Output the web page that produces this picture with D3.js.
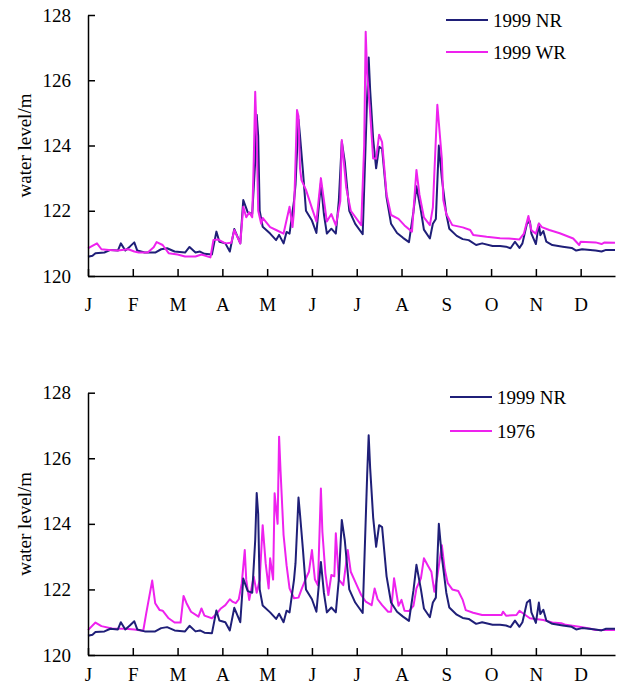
<!DOCTYPE html>
<html>
<head>
<meta charset="utf-8">
<script src="https://cdn.jsdelivr.net/npm/d3@7"></script>
<style>
  body { margin: 0; background: #fff; }
  svg { display: block; }
</style>
</head>
<body>
<svg id="chart"></svg>
<script>
// month labels and the day each month tick sits on
const monthLabels = ["J", "F", "M", "A", "M", "J", "J", "A", "S", "O", "N", "D"];
const monthDays = [0, 30, 60, 90, 120, 150, 180, 210, 240, 270, 300, 330];
const levelTicks = [120, 122, 124, 126, 128];

// [day, water level m]
const nr1999 = [
  [0, 120.59], [3, 120.62], [5, 120.70], [11, 120.72], [15, 120.80], [20, 120.78],
  [22, 121.00], [25, 120.78], [28, 120.90], [31, 121.03], [33, 120.78], [38, 120.72],
  [45, 120.72], [49, 120.82], [53, 120.85], [58, 120.75], [65, 120.72], [68, 120.89],
  [72, 120.72], [75, 120.75], [78, 120.68], [83, 120.66], [86, 121.36], [88, 121.05],
  [92, 121.00], [95, 120.75], [98, 121.44], [102, 121.00], [104, 122.33], [107, 121.95],
  [110, 121.90], [112, 123.50], [113, 124.94], [114, 124.30], [115, 122.00], [117, 121.51],
  [122, 121.30], [126, 121.10], [128, 121.26], [131, 121.00], [133, 121.35], [135, 121.30],
  [138, 122.30], [139, 122.80], [141, 124.80], [142, 124.30], [144, 123.20], [146, 122.00],
  [150, 121.70], [153, 121.32],
  [156, 122.84], [158, 121.90], [160, 121.30], [163, 121.45], [166, 121.30], [168, 122.30],
  [170, 124.12], [172, 123.50], [175, 122.00], [179, 121.60], [184, 121.28], [187, 125.50],
  [188, 126.70], [189, 125.70], [191, 124.20], [193, 123.30], [195, 123.96], [197, 123.90],
  [200, 122.40], [203, 121.60], [207, 121.32], [211, 121.17], [215, 121.04], [218, 121.97],
  [220, 122.75], [223, 122.00], [225, 121.42], [229, 121.15], [231, 121.60], [233, 121.75],
  [235, 124.00], [237, 123.00], [240, 121.90], [242, 121.45], [247, 121.23], [251, 121.13],
  [255, 121.10], [260, 120.95], [264, 121.00], [271, 120.92], [276, 120.92], [280, 120.90],
  [283, 120.85], [286, 121.05], [289, 120.86], [291, 121.00], [294, 121.60], [296, 121.68],
  [297, 121.30], [300, 120.98], [302, 121.60], [303, 121.25], [305, 121.38], [307, 121.05],
  [311, 120.95], [318, 120.90], [324, 120.86], [327, 120.78], [331, 120.82], [340, 120.78],
  [344, 120.75], [347, 120.80], [353, 120.80]
];

const wr1999 = [
  [0, 120.85], [2, 120.90], [6, 121.00], [9, 120.82], [14, 120.80], [20, 120.78],
  [27, 120.82], [31, 120.75], [34, 120.72], [40, 120.72], [44, 120.88], [46, 121.04],
  [50, 120.95], [54, 120.70], [60, 120.66], [65, 120.60], [72, 120.60], [76, 120.66],
  [82, 120.57], [84, 121.10], [87, 121.12], [92, 121.00], [96, 121.02], [98, 121.41],
  [102, 121.00], [104, 122.12], [106, 121.80], [108, 121.95], [110, 121.80], [111, 123.50],
  [112, 125.65], [113, 124.30], [114, 122.00], [116, 121.60], [117, 121.78], [122, 121.50],
  [126, 121.41], [131, 121.30], [135, 122.12], [137, 121.50], [138, 122.00], [139, 123.50],
  [140, 125.09], [141, 124.90], [142, 123.30], [143, 122.94], [146, 122.64], [150, 122.08],
  [153, 121.67], [156, 123.00],
  [160, 121.67], [163, 121.90], [166, 121.55], [169, 122.30], [170, 124.17], [173, 122.70],
  [176, 122.00], [183, 121.56], [185, 124.00], [186, 127.49], [187, 126.20], [189, 125.00],
  [191, 123.60], [193, 123.60], [195, 124.33], [197, 124.10], [200, 122.50], [203, 121.87],
  [208, 121.75], [212, 121.55], [217, 121.36], [220, 123.25], [222, 122.50], [225, 121.80],
  [229, 121.56], [231, 122.10], [234, 125.25], [237, 123.60], [238, 122.33], [240, 121.90],
  [244, 121.56], [251, 121.49], [256, 121.41], [258, 121.26], [267, 121.20], [276, 121.16],
  [282, 121.15], [289, 121.12], [292, 121.30], [295, 121.84], [297, 121.40], [300, 121.30],
  [302, 121.61], [304, 121.50], [309, 121.41], [316, 121.31], [325, 121.15], [329, 120.95],
  [330, 121.05], [340, 121.03], [344, 120.98], [346, 121.03], [353, 121.02]
];

const y1976 = [
  [0, 120.76], [5, 120.99], [9, 120.88], [16, 120.81], [25, 120.80], [31, 120.78],
  [37, 120.74], [39, 121.27], [43, 122.27], [45, 121.58], [48, 121.37], [50, 121.35],
  [54, 121.12], [58, 120.99], [62, 120.99], [64, 121.80], [66, 121.58], [69, 121.32],
  [74, 121.17], [76, 121.42], [78, 121.20], [83, 121.12], [86, 121.25], [89, 121.42],
  [92, 121.52], [95, 121.70], [97, 121.62], [99, 121.58], [101, 121.70], [103, 122.19],
  [105, 123.20], [106, 122.29], [108, 121.68], [111, 122.39], [113, 121.90], [115, 122.29],
  [117, 123.96], [119, 122.80], [121, 122.03], [122, 122.95], [124, 122.30], [125, 124.93],
  [127, 124.00], [128, 126.66], [129, 125.59], [131, 123.66], [133, 122.74], [135, 122.03],
  [138, 121.73], [141, 121.75], [143, 122.00], [146, 122.34], [148, 122.54], [150, 123.20],
  [152, 122.30], [154, 122.13], [156, 125.08], [157, 123.76], [159, 122.50], [161, 121.83],
  [163, 122.44], [165, 122.40], [166, 123.71], [168, 122.30], [171, 122.13], [174, 123.20],
  [176, 122.54], [180, 122.13], [183, 121.83], [186, 121.63], [190, 121.52], [192, 122.03],
  [194, 121.70], [197, 121.52], [201, 121.32], [203, 121.32], [205, 122.34], [208, 121.50],
  [210, 121.68], [212, 121.35], [215, 121.34], [218, 121.50], [220, 122.03], [223, 122.34],
  [225, 122.95], [228, 122.70], [230, 122.54], [232, 121.93], [234, 122.40], [237, 123.35],
  [239, 122.60], [241, 122.19], [244, 122.00], [248, 121.95], [251, 121.68], [253, 121.37],
  [258, 121.29], [264, 121.22], [271, 121.22], [277, 121.22], [278, 121.32], [280, 121.20],
  [287, 121.22], [289, 121.35], [292, 121.25], [296, 121.12], [305, 121.07], [311, 120.99],
  [317, 120.97], [320, 120.92], [329, 120.86], [336, 120.81], [340, 120.76], [353, 120.76]
];

const navy = "#1f1f78";
const magenta = "#ee22ee";
const font = "'Liberation Serif', 'Times New Roman', serif";

const svg = d3.select("#chart").attr("width", 627).attr("height", 686);
svg.append("rect").attr("width", 627).attr("height", 686).attr("fill", "#fff");

const x = d3.scaleLinear().domain([0, 353]).range([88, 615]);

function drawPanel(opts) {
  const y = d3.scaleLinear().domain([120, 128]).range([opts.bottom, opts.top]);
  const g = svg.append("g");

  const line = d3.line().x(d => x(d[0])).y(d => y(d[1]));

  // series, first one drawn underneath
  opts.series.forEach(s => {
    g.append("path")
      .datum(s.data)
      .attr("fill", "none")
      .attr("stroke", s.color)
      .attr("stroke-width", 2)
      .attr("stroke-linejoin", "round")
      .attr("d", line);
  });

  const yAxis = g.append("g")
    .attr("transform", `translate(${x(0)},0)`)
    .call(d3.axisLeft(y).tickValues(levelTicks).tickFormat(d3.format("d"))
      .tickSizeInner(-7).tickSizeOuter(0).tickPadding(17));

  const xAxis = g.append("g")
    .attr("transform", `translate(0,${opts.bottom})`)
    .call(d3.axisBottom(x).tickValues(monthDays).tickFormat((d, i) => monthLabels[i])
      .tickSizeInner(-7).tickSizeOuter(0).tickPadding(opts.xPad));

  [yAxis, xAxis].forEach(a => {
    a.attr("font-family", font);
    a.selectAll("path, line").attr("stroke", "#000").attr("stroke-width", 1.5);
    a.selectAll("text").attr("font-family", font).attr("font-size", 19).attr("fill", "#000");
  });

  g.append("text")
    .attr("transform", `translate(31,${(opts.top + opts.bottom) / 2}) rotate(-90)`)
    .attr("text-anchor", "middle")
    .attr("font-family", font)
    .attr("font-size", 19)
    .text("water level/m");

  // legend
  opts.legend.forEach((item, i) => {
    const ly = opts.legendY + i * opts.legendGap;
    g.append("line")
      .attr("x1", opts.legendX).attr("x2", opts.legendX + 42)
      .attr("y1", ly).attr("y2", ly)
      .attr("stroke", item.color).attr("stroke-width", 2);
    g.append("text")
      .attr("x", opts.legendX + 47).attr("y", ly)
      .attr("dy", "0.35em")
      .attr("font-family", font)
      .attr("font-size", 19)
      .text(item.name);
  });
}

drawPanel({
  top: 15, bottom: 276, xPad: 22,
  series: [{ data: nr1999, color: navy }, { data: wr1999, color: magenta }],
  legend: [{ name: "1999 NR", color: navy }, { name: "1999 WR", color: magenta }],
  legendX: 446, legendY: 20, legendGap: 32
});

drawPanel({
  top: 392.7, bottom: 655, xPad: 13,
  series: [{ data: y1976, color: magenta }, { data: nr1999, color: navy }],
  legend: [{ name: "1999 NR", color: navy }, { name: "1976", color: magenta }],
  legendX: 450, legendY: 397, legendGap: 34
});
</script>
</body>
</html>
